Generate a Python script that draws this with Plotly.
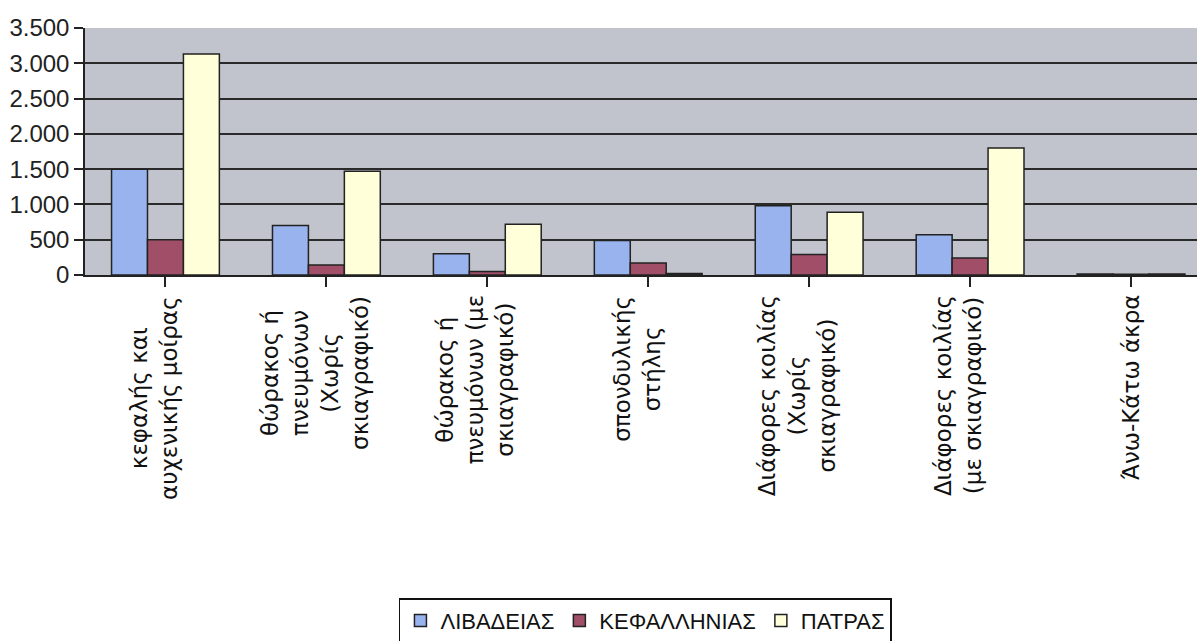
import plotly.graph_objects as go

categories = [
    "κεφαλής και<br>αυχενικής μοίρας",
    "θώρακος ή<br>πνευμόνων<br>(Χωρίς<br>σκιαγραφικό)",
    "θώρακος ή<br>πνευμόνων (με<br>σκιαγραφικό)",
    "σπονδυλικής<br>στήλης",
    "Διάφορες κοιλίας<br>(Χωρίς<br>σκιαγραφικό)",
    "Διάφορες κοιλίας<br>(με σκιαγραφικό)",
    "Άνω-Κάτω άκρα",
]
series_names = ["ΛΙΒΑΔΕΙΑΣ", "ΚΕΦΑΛΛΗΝΙΑΣ", "ΠΑΤΡΑΣ"]
livadeias = [1500, 700, 300, 490, 980, 570, 15]
kefallinias = [500, 140, 50, 170, 290, 240, 10]
patras = [3130, 1470, 720, 20, 890, 1800, 15]
y_ticks = [0, 500, 1000, 1500, 2000, 2500, 3000, 3500]

colors = ["#98B3EE", "#A14E68", "#FFFFDA"]
values = [livadeias, kefallinias, patras]
xpos = list(range(len(categories)))

fig = go.Figure()
for name, vals, col in zip(series_names, values, colors):
    fig.add_trace(go.Bar(
        x=xpos, y=vals, name=name,
        marker=dict(color=col, line=dict(color="#222222", width=1.5)),
    ))

narrow = "Liberation Sans Narrow, Arial Narrow, Liberation Sans, Arial, sans-serif"

# category labels, rotated and centred line by line
for i, lab in enumerate(categories):
    fig.add_annotation(
        x=xpos[i], xref="x", y=-0.075, yref="paper",
        text=lab, textangle=-90, showarrow=False,
        xanchor="center", yanchor="top", align="center",
        xshift=-12 if "<br>" in lab else 0,
        font=dict(family="DejaVu Sans", size=23, color="#111111"),
    )

fig.update_layout(
    width=1197, height=641,
    margin=dict(l=85, r=0, t=28, b=366, autoexpand=False),
    paper_bgcolor="white",
    plot_bgcolor="#C1C4CD",
    barmode="group",
    bargap=0.33,
    bargroupgap=0,
    separators=",.",
    showlegend=True,
    legend=dict(
        orientation="h",
        x=0.504, xanchor="center",
        y=-1.308, yanchor="top",
        bgcolor="white",
        bordercolor="#111111", borderwidth=1.5,
        font=dict(family=narrow, size=22, color="#111111"),
        itemwidth=30,
        tracegroupgap=0,
    ),
    xaxis=dict(
        tickmode="array",
        tickvals=xpos,
        ticktext=categories,
        showticklabels=False,
        range=[-0.5, 6.41],
        tickson="boundaries",
        ticks="outside", ticklen=10, tickwidth=1.5, tickcolor="#222222",
        showline=True, linecolor="#222222", linewidth=1.5,
        showgrid=False,
    ),
    yaxis=dict(
        range=[0, 3500],
        tickmode="array",
        tickvals=y_ticks,
        tickformat=",d",
        ticks="outside", ticklen=9, tickwidth=1.5, tickcolor="#222222",
        showline=True, linecolor="#222222", linewidth=1.5,
        showgrid=True, gridcolor="#2a2a2a", gridwidth=1.5,
        zeroline=False,
        tickfont=dict(family=narrow, size=24, color="#222222"),
    ),
)

fig.write_html("out.html")
